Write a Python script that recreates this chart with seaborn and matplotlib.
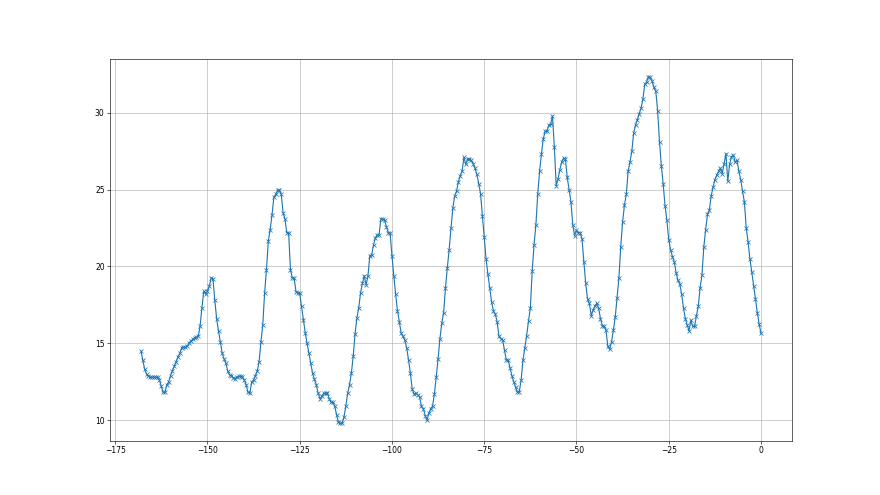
import numpy as np
import pandas as pd
import seaborn as sns
import matplotlib
matplotlib.use("Agg")
import matplotlib.pyplot as plt

# half-hourly readings, last 168 hours (x = hours before now)
temps_a = [14.5, 13.9, 13.3, 13.0, 12.85, 12.8, 12.8, 12.8, 12.8, 12.8,
           12.6, 12.2, 11.8, 11.8, 12.3, 12.5, 12.9, 13.2, 13.5, 13.8,
           14.1, 14.35, 14.7, 14.75, 14.75, 14.8, 15.0, 15.15, 15.25, 15.35,
           15.4, 15.45, 16.1, 17.3, 18.4, 18.2, 18.4, 18.7, 19.25, 19.2,
           17.8, 16.6, 15.8, 15.1, 14.35, 14.0, 13.7, 13.2, 12.95, 12.9,
           12.75, 12.7, 12.8, 12.85, 12.85, 12.8, 12.6, 12.3, 11.8, 11.75,
           12.5, 12.6, 12.9, 13.2]
temps_b = [13.8, 15.1, 16.2, 18.3, 19.8, 21.65, 22.4, 23.35, 24.5, 24.7,
           24.95, 24.95, 24.7, 23.5, 23.1, 22.2, 22.2, 19.8, 19.25, 19.25,
           18.35, 18.3, 18.25, 17.4, 16.5, 15.7, 15.0, 14.35, 13.7, 13.05,
           12.65, 12.3, 11.75, 11.4, 11.55, 11.75, 11.75, 11.75, 11.4, 11.15,
           11.15, 10.9, 10.35, 9.85, 9.8, 9.8, 10.2, 10.9, 11.75, 12.3,
           13.05, 14.15, 15.6, 16.65, 17.3, 18.3, 18.9, 19.4, 18.8, 19.4,
           20.7, 20.75, 21.4, 21.85, 22.05, 22.05, 23.1, 23.1, 23.0, 22.6,
           22.2, 22.2]
temps_c = [20.7, 19.4, 18.2, 17.1, 16.4, 15.65, 15.45, 15.2, 14.7, 13.9,
           13.05, 12.0, 11.7, 11.75, 11.65, 11.5, 10.9, 10.75, 10.3, 10.0,
           10.45, 10.75, 10.9, 11.7, 12.8, 14.0, 15.3, 16.3, 17.0, 18.6,
           19.9, 21.1, 22.5, 23.8, 24.6, 24.9, 25.5, 25.9, 26.2, 27.1,
           26.65, 27.0, 27.0, 26.9, 26.7, 26.4, 26.0, 25.4, 24.75, 23.3,
           21.9, 20.5, 19.5, 18.6, 17.7, 17.1, 16.9, 16.4, 15.45, 15.3,
           15.2, 14.55, 13.9, 13.9, 13.4, 12.9]
temps_d = [12.5, 12.15, 11.8, 11.85, 12.6, 13.9, 14.7, 15.5, 16.45, 17.3,
           19.7, 21.4, 22.7, 24.7, 26.2, 27.3, 28.3, 28.8, 28.8, 29.2,
           29.25, 29.8, 27.8, 25.25, 25.7, 26.3, 26.8, 27.05, 27.0, 25.8,
           25.0, 24.2, 22.7, 22.0, 22.35, 22.2, 22.2, 21.8, 20.3, 18.9,
           17.9, 17.6, 16.8, 17.15, 17.45, 17.6, 17.3, 16.6, 16.15, 16.1,
           15.85, 14.8, 14.6, 15.1, 15.85, 16.7, 17.95, 19.25, 21.3, 22.9,
           24.0, 24.7, 26.2, 26.8, 27.5, 28.7, 29.2, 29.55, 29.95, 30.3]
temps_e = [30.9, 31.85, 32.0, 32.35, 32.3, 32.05, 31.65, 31.4, 30.1, 28.1,
           26.55, 25.35, 23.95, 23.0, 21.75, 21.1, 20.65, 20.3, 19.6, 19.1,
           18.85, 18.2, 17.3, 16.6, 16.2, 15.8, 16.5, 16.1, 16.1, 16.8,
           17.4, 18.6, 19.45, 21.25, 22.4, 23.4, 23.65, 24.6, 25.15, 25.65,
           25.95, 26.2, 26.4, 26.05, 26.7, 27.35, 25.55, 26.65, 27.15, 27.25,
           26.8, 26.9, 26.2, 25.65, 24.9, 24.2, 22.5, 21.6, 20.5, 19.65,
           18.75, 17.9, 17.0, 16.25, 15.65]

temps = temps_a + temps_b + temps_c + temps_d + temps_e
hours = np.arange(len(temps)) * 0.5 - 0.5 * (len(temps) - 1)

df = pd.DataFrame({"hours": hours, "temp": temps})

fig, ax = plt.subplots(figsize=(16, 9), dpi=55)
sns.lineplot(data=df, x="hours", y="temp", ax=ax, color="#1f77b4",
             linewidth=1.5, marker="x", markersize=6,
             markeredgecolor="#1f77b4", markeredgewidth=1.0)
ax.set_xlabel("")
ax.set_ylabel("")
ax.grid(True)
fig.savefig("out.png", dpi=55)
